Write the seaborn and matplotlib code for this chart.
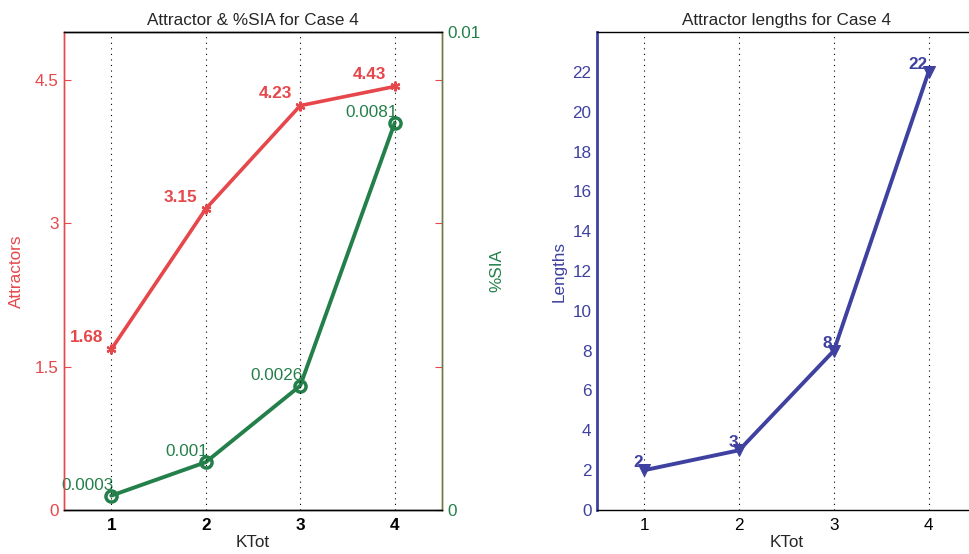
import matplotlib
matplotlib.use("Agg")
import matplotlib.pyplot as plt
import seaborn as sns
import pandas as pd

sns.set_style("white")
plt.rcParams["font.family"] = ["Liberation Sans", "DejaVu Sans"]

ktot = [1, 2, 3, 4]
attractors = [1.68, 3.15, 4.23, 4.43]
sia_pct = [0.0003, 0.001, 0.0026, 0.0081]
sia_labels = ["0.0003", "0.001", "0.0026", "0.0081"]
lengths = [2, 3, 8, 22]

left_ticks = [0, 1.5, 3, 4.5]
left_ticklabels = ["0", "1.5", "3", "4.5"]
right_ticks = [0, 0.01]
right_ticklabels = ["0", "0.01"]
len_ticks = list(range(0, 23, 2))

RED = "#e6474b"
GREEN = "#24804a"
OLIVE = "#6b7a45"
BLUE = "#3f41a0"

df = pd.DataFrame({"KTot": ktot, "Attractors": attractors,
                   "SIA": sia_pct, "Lengths": lengths})

W, H = 970, 554
fig = plt.figure(figsize=(W / 100, H / 100), dpi=100)

ax1 = fig.add_axes([64 / W, 44 / H, 378 / W, 478 / H])
ax2 = ax1.twinx()
ax3 = fig.add_axes([597 / W, 44 / H, 379 / W, 478 / H])

fs = 12.3
asterisk = (6, 2, 0)

# Left panel: attractor counts
sns.lineplot(data=df, x="KTot", y="Attractors", ax=ax1, color=RED, lw=2.6,
             marker=asterisk, markersize=7, markeredgecolor=RED, markeredgewidth=1.6)
for x, y in zip(ktot, attractors):
    ax1.annotate(f"{y:.2f}", (x, y), xytext=(-6, 3), textcoords="offset points",
                 ha="right", va="bottom", color=RED, fontweight="bold", fontsize=fs)

# Left panel, second axis: %SIA
sns.lineplot(data=df, x="KTot", y="SIA", ax=ax2, color=GREEN, lw=2.8,
             marker="o", markersize=8, markerfacecolor="none",
             markeredgecolor=GREEN, markeredgewidth=2.5)
for x, y, s in zip(ktot, sia_pct, sia_labels):
    ax2.annotate(s, (x, y), xytext=(2, 2), textcoords="offset points",
                 ha="right", va="bottom", color=GREEN, fontsize=fs)

ax1.set_xlim(0.5, 4.5)
ax1.set_ylim(0, 5)
ax2.set_ylim(0, 0.01)
ax1.set_xticks(ktot)
ax1.set_xticklabels([str(k) for k in ktot], fontweight="bold", fontsize=fs)
ax1.set_yticks(left_ticks)
ax1.set_yticklabels(left_ticklabels, color=RED, fontsize=fs)
ax2.set_yticks(right_ticks)
ax2.set_yticklabels(right_ticklabels, color=GREEN, fontsize=fs)
ax1.set_xlabel("KTot", fontsize=fs, labelpad=1)
ax1.set_ylabel("Attractors", color=RED, fontsize=fs, labelpad=8)
ax2.set_ylabel("%SIA", color=GREEN, fontsize=fs, labelpad=6)
ax1.set_title("Attractor & %SIA for Case 4", fontsize=fs, pad=5)
ax1.xaxis.grid(True, linestyle=(0, (1, 4)), color="black", lw=0.8)
ax1.yaxis.grid(False)
ax2.grid(False)
ax1.tick_params(axis="x", direction="in", length=4, colors="black", pad=6)
ax1.tick_params(axis="y", direction="in", length=5, color=RED, right=True, pad=4)
ax2.tick_params(axis="y", direction="in", length=5, color=GREEN, pad=4)
for ax in (ax1, ax2):
    ax.spines["left"].set_color(RED)
    ax.spines["right"].set_color(OLIVE)
    ax.spines["top"].set_color("black")
    ax.spines["bottom"].set_color("black")
    for sp in ax.spines.values():
        sp.set_linewidth(1.0)
ax1.set_zorder(ax2.get_zorder() + 1)
ax1.patch.set_visible(False)

# Right panel: attractor lengths
sns.lineplot(data=df, x="KTot", y="Lengths", ax=ax3, color=BLUE, lw=2.8,
             marker="v", markersize=9, markeredgecolor=BLUE)
for x, y in zip(ktot, lengths):
    ax3.annotate(str(y), (x, y), xytext=(-1, 0), textcoords="offset points",
                 ha="right", va="bottom", color=BLUE, fontweight="bold", fontsize=fs)
ax3.set_xlim(0.5, 4.5)
ax3.set_ylim(0, 24)
ax3.set_xticks(ktot)
ax3.set_xticklabels([str(k) for k in ktot], fontsize=fs)
ax3.set_yticks(len_ticks)
ax3.set_yticklabels([str(t) for t in len_ticks], color=BLUE, fontsize=fs)
ax3.set_xlabel("KTot", fontsize=fs, labelpad=1)
ax3.set_ylabel("Lengths", color=BLUE, fontsize=fs, labelpad=4)
ax3.set_title("Attractor lengths for Case 4", fontsize=fs, pad=5)
ax3.xaxis.grid(True, linestyle=(0, (1, 4)), color="black", lw=0.8)
ax3.yaxis.grid(False)
ax3.tick_params(axis="x", direction="in", length=4, colors="black", pad=6)
ax3.tick_params(axis="y", direction="in", length=5, color=BLUE, right=True, pad=4)
ax3.spines["left"].set_color(BLUE)
ax3.spines["left"].set_linewidth(2.0)
for side in ("top", "bottom", "right"):
    ax3.spines[side].set_color("black")
    ax3.spines[side].set_linewidth(1.0)

fig.savefig("out.png", dpi=100)
